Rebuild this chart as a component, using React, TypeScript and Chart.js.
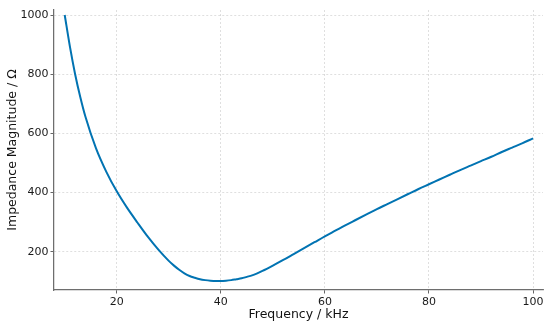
import React, { useEffect, useRef } from "react";
import { Chart, registerables } from "chart.js";

Chart.register(...registerables);

const frequencies = [10, 11, 12, 13, 14, 16, 18, 20, 22, 24, 26, 28, 30, 31, 32, 33, 34, 35, 36, 37, 38, 39, 40, 41, 42, 43, 44, 45, 46, 47, 48, 50, 52, 54, 56, 58, 60, 62, 64, 66, 68, 70, 72, 74, 76, 78, 80, 82, 84, 86, 88, 90, 92, 94, 96, 98, 100];
const impedance = [1000, 893, 800, 722, 655, 550, 470, 404, 348, 298, 250, 207, 169, 153, 139, 127, 118, 112, 107, 104, 102, 101, 101, 102, 104, 107, 110, 115, 120, 127, 135, 153, 172, 192, 212, 232, 252, 271, 290, 308, 326, 344, 361, 378, 395, 412, 428, 444, 460, 476, 491, 506, 521, 537, 552, 567, 583];
const xTicks = [20, 40, 60, 80, 100];
const yTicks = [200, 400, 600, 800, 1000];

const FONT = "'DejaVu Sans', sans-serif";

export default function App() {
  const ref = useRef<HTMLCanvasElement | null>(null);

  useEffect(() => {
    document.body.style.margin = "0";
    const canvas = ref.current;
    if (!canvas) return;
    const chart = new Chart(canvas, {
      type: "line",
      data: {
        datasets: [
          {
            data: frequencies.map((f, i) => ({ x: f, y: impedance[i] })),
            borderColor: "#0173B2",
            borderWidth: 2,
            pointRadius: 0,
            cubicInterpolationMode: "monotone",
            fill: false,
          },
        ],
      },
      options: {
        responsive: false,
        animation: false,
        layout: { padding: { top: 10, right: 7, left: 0, bottom: 0 } },
        plugins: { legend: { display: false }, tooltip: { enabled: false } },
        scales: {
          x: {
            type: "linear",
            min: 7.94,
            max: 101.92,
            afterBuildTicks: (s: any) => {
              s.ticks = xTicks.map((v) => ({ value: v }));
            },
            afterFit: (s: any) => {
              s.height = 37;
            },
            ticks: {
              font: { family: FONT, size: 11 },
              color: "#1a1a1a",
              padding: 2,
              maxRotation: 0,
              callback: (v: any) => String(v),
            },
            grid: {
              color: "rgba(0,0,0,0.16)",
              lineWidth: 0.8,
              drawTicks: true,
              tickLength: 3.5,
              tickColor: "#666",
              tickWidth: 1,
            },
            border: { display: true, color: "#6e6e6e", width: 1.25, dash: [2, 2] },
            title: {
              display: true,
              text: "Frequency / kHz",
              font: { family: FONT, size: 12.5 },
              color: "#111",
              padding: { top: 0, bottom: 5 },
            },
          },
          y: {
            type: "linear",
            min: 70.6,
            max: 1016.9,
            afterBuildTicks: (s: any) => {
              s.ticks = yTicks.map((v) => ({ value: v }));
            },
            afterFit: (s: any) => {
              s.width = 54;
            },
            ticks: {
              font: { family: FONT, size: 11 },
              color: "#1a1a1a",
              padding: 2,
              callback: (v: any) => String(v),
            },
            grid: {
              color: "rgba(0,0,0,0.16)",
              lineWidth: 0.8,
              drawTicks: true,
              tickLength: 3.5,
              tickColor: "#666",
              tickWidth: 1,
            },
            border: { display: true, color: "#6e6e6e", width: 1.25, dash: [2, 2] },
            title: {
              display: true,
              text: "Impedance Magnitude / Ω",
              font: { family: FONT, size: 12.5 },
              color: "#111",
              padding: { top: 5, bottom: 0 },
            },
          },
        },
      },
    });
    return () => chart.destroy();
  }, []);

  return (
    <div style={{ width: 550, height: 327 }}>
      <canvas ref={ref} width={550} height={327} />
    </div>
  );
}
